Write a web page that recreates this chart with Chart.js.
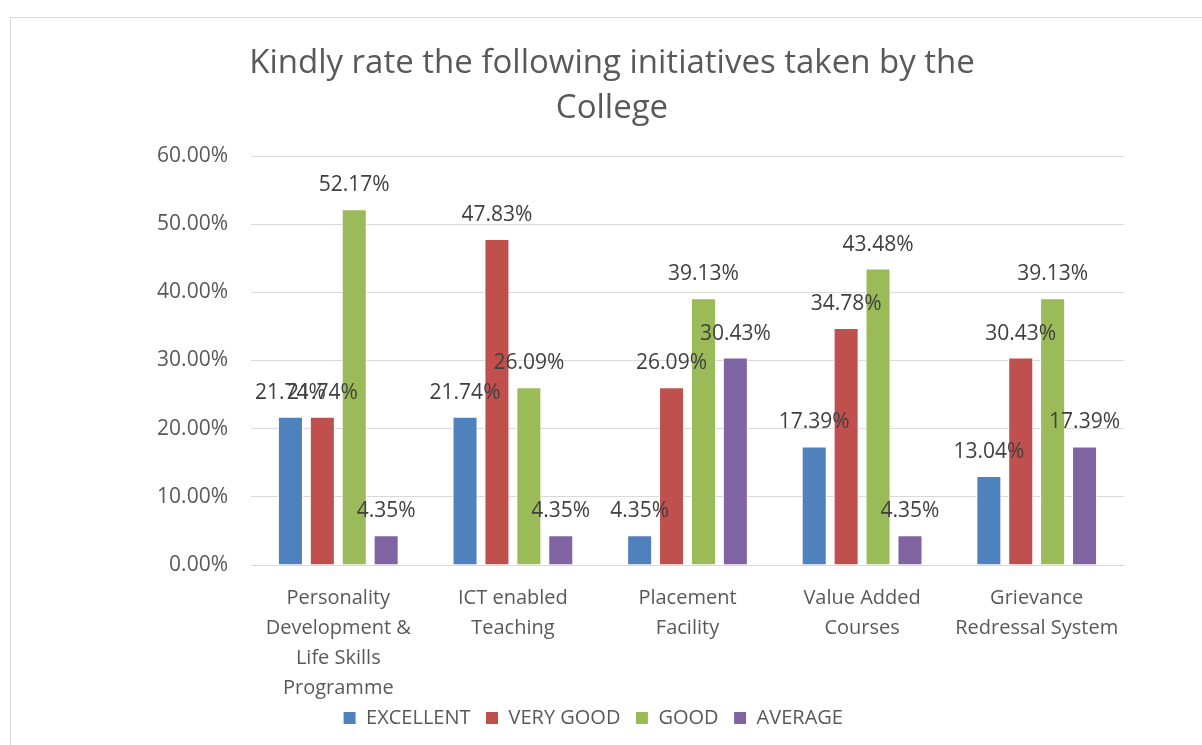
<!DOCTYPE html>
<html lang="en">
<head>
    <meta charset="UTF-8">
    <title>Initiatives Rating</title>
    <style>
        body { margin: 0; overflow: hidden; background: #fff; width: 1202px; height: 745px; position: relative; }
        .frame { position: absolute; left: 10px; top: 17px; width: 1300px; height: 800px; border: 1px solid #d9d9d9; }
        #chart { position: absolute; left: 0; top: 0; }
    </style>
</head>
<body>
    <div class="frame"></div>
    <canvas id="chart" width="1202" height="745"></canvas>

    <script src="https://cdn.jsdelivr.net/npm/chart.js"></script>
    <script>
        // Data
        const titleLines = ['Kindly rate the following initiatives taken by the', 'College'];
        const categories = [
            ['Personality', 'Development &', 'Life Skills', 'Programme'],
            ['ICT enabled', 'Teaching'],
            ['Placement', 'Facility'],
            ['Value Added', 'Courses'],
            ['Grievance', 'Redressal System']
        ];
        const excellent = [21.74, 21.74, 4.35, 17.39, 13.04];
        const veryGood  = [21.74, 47.83, 26.09, 34.78, 30.43];
        const good      = [52.17, 26.09, 39.13, 43.48, 39.13];
        const average   = [4.35, 4.35, 30.43, 4.35, 17.39];
        const yTicks = [0, 10, 20, 30, 40, 50, 60];

        const FONT = "'Open Sans', sans-serif";
        const textColor = '#595959';

        // title drawn by hand so it centres on the frame, not the plot
        const chartTitle = {
            id: 'chartTitle',
            afterDraw(chart) {
                const ctx = chart.ctx;
                ctx.save();
                ctx.font = `33px ${FONT}`;
                ctx.fillStyle = textColor;
                ctx.textAlign = 'center';
                ctx.textBaseline = 'alphabetic';
                titleLines.forEach((line, i) => ctx.fillText(line, 612, 73 + i * 45));
                ctx.restore();
            }
        };

        // value labels above each bar
        const barLabels = {
            id: 'barLabels',
            afterDatasetsDraw(chart) {
                const ctx = chart.ctx;
                ctx.save();
                ctx.font = `21px ${FONT}`;
                ctx.fillStyle = '#404040';
                ctx.textAlign = 'center';
                ctx.textBaseline = 'middle';
                chart.data.datasets.forEach((ds, i) => {
                    chart.getDatasetMeta(i).data.forEach((bar, j) => {
                        ctx.fillText(ds.data[j].toFixed(2) + '%', bar.x, bar.y - 24);
                    });
                });
                ctx.restore();
            }
        };

        // small layout tweaks: let the 4-line category label run into the legend band,
        // and centre the legend on the frame rather than the padded area
        const layoutTweaks = {
            id: 'layoutTweaks',
            afterLayout(chart) {
                chart.scales.x.bottom += 14;
                chart.legend.left += 31;
                chart.legend.right += 31;
            }
        };

        function series(label, data, color) {
            return { label, data, backgroundColor: color, borderColor: '#ffffff', borderWidth: 1,
                     categoryPercentage: 0.731, barPercentage: 0.784 };
        }

        new Chart(document.getElementById('chart'), {
            type: 'bar',
            data: {
                labels: categories,
                datasets: [
                    series('EXCELLENT', excellent, '#4F81BD'),
                    series('VERY GOOD', veryGood, '#C0504D'),
                    series('GOOD', good, '#9BBB59'),
                    series('AVERAGE', average, '#8064A2')
                ]
            },
            options: {
                responsive: false,
                devicePixelRatio: 1,
                animation: false,
                layout: { padding: { top: 156, right: 78, left: 0, bottom: 7 } },
                plugins: {
                    title: { display: false },
                    legend: {
                        position: 'bottom',
                        labels: {
                            color: textColor,
                            font: { family: FONT, size: 20 },
                            boxWidth: 13, boxHeight: 13,
                            padding: 15
                        }
                    },
                    tooltip: { enabled: false }
                },
                scales: {
                    x: {
                        afterFit: s => { s.height = 128; },
                        grid: { display: false },
                        border: { color: '#d9d9d9', width: 1 },
                        ticks: { color: textColor, font: { family: FONT, size: 20, lineHeight: 1.5 }, maxRotation: 0, autoSkip: false, padding: 10 }
                    },
                    y: {
                        min: 0, max: 60,
                        afterBuildTicks: s => { s.ticks = yTicks.map(v => ({ value: v })); },
                        afterFit: s => { s.width = 251; },
                        grid: { color: '#d9d9d9', drawTicks: false },
                        border: { display: false },
                        ticks: { color: textColor, font: { family: FONT, size: 21 }, padding: 23,
                                 callback: v => v.toFixed(2) + '%' }
                    }
                }
            },
            plugins: [barLabels, chartTitle, layoutTweaks]
        });
    </script>
</body>
</html>
